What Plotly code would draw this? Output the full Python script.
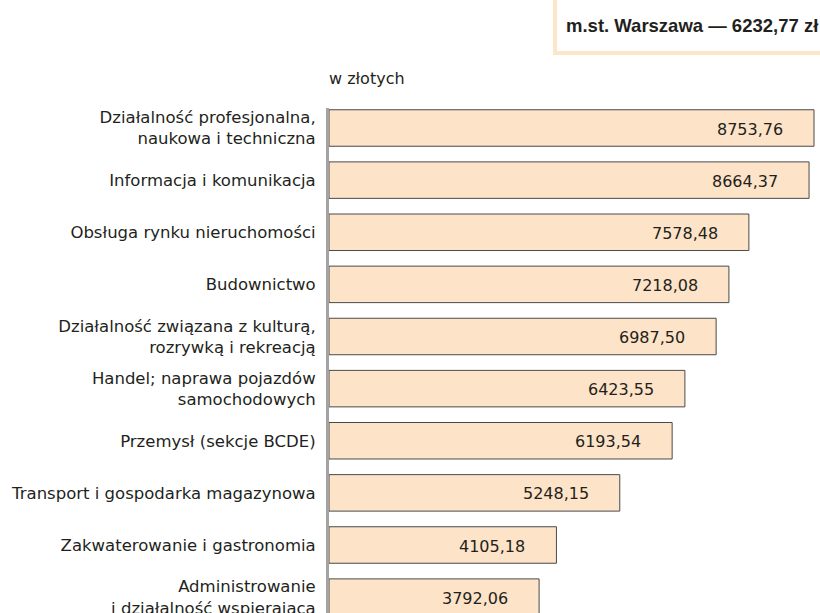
import plotly.graph_objects as go

categories = [
    "Działalność profesjonalna,<br>naukowa i techniczna",
    "Informacja i komunikacja",
    "Obsługa rynku nieruchomości",
    "Budownictwo",
    "Działalność związana z kulturą,<br>rozrywką i rekreacją",
    "Handel; naprawa pojazdów<br>samochodowych",
    "Przemysł (sekcje BCDE)",
    "Transport i gospodarka magazynowa",
    "Zakwaterowanie i gastronomia",
    "Administrowanie<br>i działalność wspierająca",
]
values = [8753.76, 8664.37, 7578.48, 7218.08, 6987.50, 6423.55, 6193.54, 5248.15, 4105.18, 3792.06]
unit_label = "w złotych"
headline = "m.st. Warszawa — 6232,77 zł"

W, H = 820, 613
ML, MR, MT, MB = 329, 0, 108, 0
PW, PH = W - ML - MR, H - MT - MB

def px_x(px):
    return (px - ML) / PW

def px_y(py):
    return (H - MB - py) / PH

BAR_FILL = "#fde3c7"
BAR_LINE = "#4a4a4a"
TEXT = "#231f20"
LABEL_FONT = "DejaVu Sans"

fig = go.Figure()
fig.add_trace(go.Bar(
    x=values,
    y=categories,
    orientation="h",
    width=0.7,
    marker=dict(color=BAR_FILL, line=dict(color=BAR_LINE, width=1)),
    hoverinfo="skip",
))

annotations = []
for c, v in zip(categories, values):
    annotations.append(dict(
        x=v, y=c, xref="x", yref="y",
        text=f"{v:.2f}".replace(".", ","),
        showarrow=False, xanchor="right", yanchor="middle",
        xshift=-29, yshift=-1,
        font=dict(family=LABEL_FONT, size=16, color=TEXT),
    ))

annotations.append(dict(
    x=px_x(327), y=px_y(79), xref="paper", yref="paper",
    text=unit_label, showarrow=False, xanchor="left", yanchor="middle",
    font=dict(family=LABEL_FONT, size=16, color=TEXT),
))
annotations.append(dict(
    x=px_x(564), y=px_y(25), xref="paper", yref="paper",
    text=f"<b>{headline}</b>", showarrow=False, xanchor="left", yanchor="middle",
    font=dict(family="Liberation Sans", size=18.5, color=TEXT),
))

fig.update_layout(
    template="none",
    width=W, height=H,
    margin=dict(l=ML, r=MR, t=MT, b=MB, pad=0, autoexpand=False),
    paper_bgcolor="white", plot_bgcolor="white",
    showlegend=False,
    annotations=annotations,
    shapes=[dict(
        type="rect", xref="paper", yref="paper",
        x0=px_x(555), x1=px_x(900), y0=px_y(53), y1=px_y(-40),
        line=dict(color="#fde5cb", width=4), fillcolor="rgba(0,0,0,0)",
        layer="above",
    )],
    xaxis=dict(
        range=[0, 8862], visible=False, fixedrange=True, automargin=False,
    ),
    yaxis=dict(
        type="category",
        range=[9.3046, -0.3837],
        automargin=False,
        showline=True, linecolor="#a3a3a3", linewidth=3,
        showgrid=False, zeroline=False, ticks="",
        ticklabelstandoff=7,
        tickfont=dict(family=LABEL_FONT, size=16.5, color=TEXT),
        fixedrange=True,
    ),
)

fig.write_html("out.html", config={"displayModeBar": False})
